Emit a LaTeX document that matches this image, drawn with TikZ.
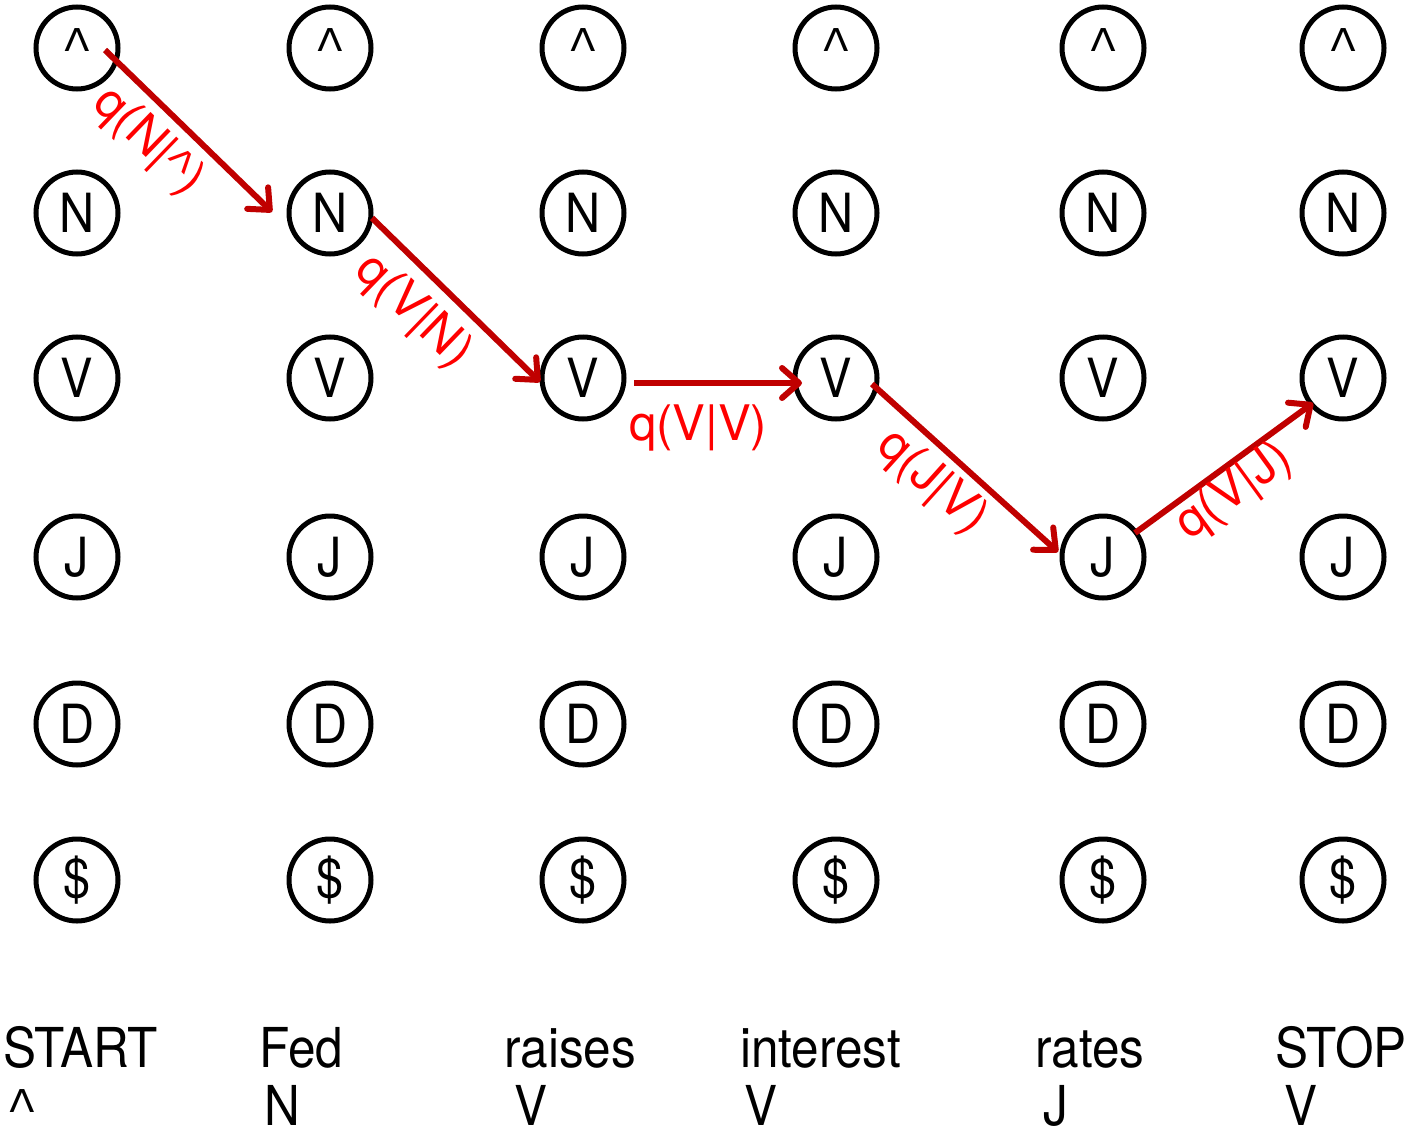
\documentclass[tikz,border=0pt]{standalone}
\usepackage{fontspec}
\setmainfont[FakeStretch=0.9]{TeX Gyre Heros}
\newfontfamily\lblfont{TeX Gyre Heros}
\usetikzlibrary{arrows.meta,calc}
\definecolor{arrowred}{HTML}{C00000}
\definecolor{labelred}{HTML}{FF0000}
% thin caret: raise, size
\newcommand\mycaret[2]{\smash{\raisebox{#1}{\fontsize{#2}{#2}\selectfont\scalebox{1.35}[1]{Λ}}}}
\begin{document}
\begin{tikzpicture}[x=1pt,y=-1pt,
  state/.style={circle,draw=black,line width=5pt,minimum size=82pt,inner sep=0pt,
    font=\fontsize{54}{60}\selectfont},
  trans/.style={draw=arrowred,line width=6pt,
    -{Straight Barb[length=17pt,width=30pt,line cap=round,line join=round]}},
  tlabel/.style={text=labelred,inner sep=0pt,font=\lblfont\fontsize{49}{55}\selectfont},
  word/.style={anchor=base west,inner sep=0pt,font=\fontsize{55}{60}\selectfont}]
\useasboundingbox (0,0) rectangle (1410,1129);
\foreach \x [count=\i from 0] in {77,330,583,836,1103,1343} {
  \foreach \y/\t [count=\j from 0] in {48/{\mycaret{-4pt}{31.5}},213/N,378/V,557/J,724/D,880/\$} {
    \node[state] (n\i\j) at (\x,\y) {\t};
  }
}
% transitions
\draw[trans] ($(n00)+(28,2)$) -- ($(n11)+(-58,-1)$);
\draw[trans] ($(n11)+(42,5)$) -- ($(n22)+(-43,4)$);
\draw[trans] ($(n22)+(51,5)$) -- ($(n32)+(-34,5)$);
\draw[trans] ($(n32)+(36,6)$) -- ($(n43)+(-45,-5)$);
\draw[trans] ($(n43)+(32,-24)$) -- ($(n52)+(-30,25)$);
% labels
\node[tlabel,rotate=-44] (l1) at (148,142) {q(N|\mycaret{14pt}{27})};
\node[tlabel,rotate=-44] (l2) at (413,312) {q(V|N)};
\node[tlabel] (l3) at (698,428) {q(V|V)};
\node[tlabel,rotate=-42] (l4) at (932,483) {q(J|V)};
\node[tlabel,rotate=36] (l5) at (1235,492) {q(V|J)};
% words
\node[word] (w0) at (3,1067) {START};
\node[word] (w1) at (259,1067) {Fed};
\node[word] (w2) at (504,1067) {raises};
\node[word] (w3) at (740,1067) {interest};
\node[word] (w4) at (1035,1067) {rates};
\node[word] (w5) at (1275,1067) {STOP};
\node[word] (t0) at (9,1125) {\mycaret{13pt}{31.5}};
\node[word] (t1) at (264,1125) {N};
\node[word] (t2) at (514,1125) {V};
\node[word] (t3) at (744,1125) {V};
\node[word] (t4) at (1043,1125) {J};
\node[word] (t5) at (1284,1125) {V};
\end{tikzpicture}
\end{document}
